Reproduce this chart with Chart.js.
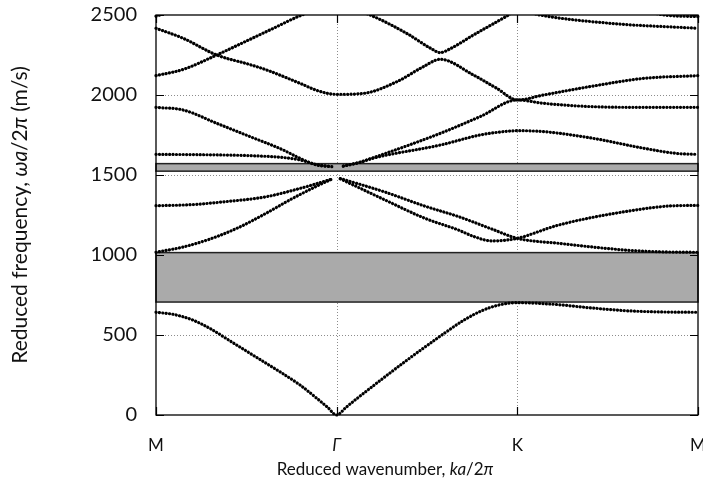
<!DOCTYPE html>
<html>
<head>
<meta charset="utf-8">
<script src="https://cdn.jsdelivr.net/npm/chart.js@4/dist/chart.umd.min.js"></script>
<style>
  html, body { margin: 0; padding: 0; background: #ffffff; }
  #wrap { width: 703px; height: 502px; }
</style>
</head>
<body>
<div id="wrap"><canvas id="c" width="703" height="502"></canvas></div>
<script>
// High-symmetry path M → Γ → K → M
const kTicks = [0, 1, 2, 3];
const kLabels = ['M', 'Γ', 'K', 'M'];
const freqTicks = [0, 500, 1000, 1500, 2000, 2500];

// Complete band gaps (m/s)
const gapLow = [706, 1015];
const gapHigh = [1524, 1571];

// Dispersion branches: [k position, reduced frequency]
const band1 = [[0,642],[0.1,628],[0.2,595],[0.3,540],[0.4,470],[0.5,400],[0.6,330],[0.7,260],[0.8,185],[0.9,95],[0.95,48],[1,0],
  [1.05,46],[1.1,92],[1.2,180],[1.3,267],[1.4,352],[1.5,434],[1.6,514],[1.7,590],[1.8,650],[1.9,688],[2,702],
  [2.2,692],[2.4,670],[2.6,652],[2.8,644],[3,642]];
const band2 = [[0,1017],[0.15,1050],[0.3,1100],[0.45,1168],[0.6,1255],[0.75,1350],[0.9,1436],[0.975,1475],[1,null],
  [1.02,1476],[1.26,1348],[1.489,1229],[1.674,1156],[1.76,1115],[1.86,1088],[1.93,1092],[2,1104],
  [2.228,1187],[2.597,1271],[2.874,1308],[3,1310]];
const band3 = [[0,1308],[0.2,1315],[0.4,1335],[0.6,1362],[0.8,1417],[0.975,1475],[1,null],
  [1.02,1478],[1.26,1396],[1.489,1305],[1.674,1240],[1.859,1162],[2,1104],
  [2.228,1073],[2.597,1031],[2.8,1020],[3,1017]];
const band4 = [[0,1629],[0.244,1627],[0.52,1621],[0.705,1609],[0.797,1594],[0.89,1565],[0.973,1552],[1,null],
  [1.037,1556],[1.13,1579],[1.185,1600],[1.573,1687],[1.794,1750],[1.9,1768],[2,1777],
  [2.145,1771],[2.42,1729],[2.7,1667],[2.88,1635],[3,1629]];
const band5 = [[0,1923],[0.151,1906],[0.336,1823],[0.52,1740],[0.705,1656],[0.797,1604],[0.89,1562],[0.973,1552],[1,null],
  [1.037,1556],[1.13,1580],[1.185,1601],[1.573,1760],[1.794,1865],[2,1969],
  [2.145,1948],[2.42,1927],[2.7,1923],[3,1923]];
const band6 = [[0,2417],[0.151,2354],[0.336,2250],[0.52,2190],[0.613,2156],[0.797,2073],[0.9,2025],[1,2004],
  [1.148,2010],[1.333,2083],[1.48,2177],[1.573,2223],[1.757,2125],[1.886,2042],[2,1969],
  [2.145,2000],[2.42,2056],[2.7,2104],[3,2121]];
const band7 = [[0,2121],[0.151,2160],[0.336,2250],[0.5,2337],[0.65,2417],[0.807,2500],[1,2570],
  [1.185,2500],[1.388,2385],[1.52,2292],[1.573,2265],[1.63,2290],[1.757,2375],[1.951,2500],[2,2535],
  [2.125,2500],[2.514,2448],[3,2417]];
const band8 = [[0,2492],[0.1,2530],[0.2,2580],[1.5,null],[2.65,2560],[2.8,2502],[3,2490]];

const bands = [band1, band2, band3, band4, band5, band6, band7, band8];

const FONT = 'Lato, "Open Sans", sans-serif';

function drawRuns(ctx, runs, cx, cy, size) {
  const fonts = runs.map(r => (r[1] ? 'italic ' : '') + size + 'px ' + FONT);
  let total = 0;
  const widths = runs.map((r, i) => { ctx.font = fonts[i]; const w = ctx.measureText(r[0]).width; total += w; return w; });
  let x = cx - total / 2;
  ctx.textAlign = 'left';
  ctx.textBaseline = 'middle';
  runs.forEach((r, i) => { ctx.font = fonts[i]; ctx.fillText(r[0], x, cy); x += widths[i]; });
}

const axesPlugin = {
  id: 'bandAxes',
  beforeDatasetsDraw(chart) {
    const { ctx, chartArea: a, scales: { x, y } } = chart;
    ctx.save();
    // dotted reference lines
    ctx.strokeStyle = '#8c8c8c';
    ctx.lineWidth = 1;
    ctx.setLineDash([1, 2]);
    freqTicks.forEach(v => {
      if (v <= y.min || v >= y.max) return;
      const py = Math.round(y.getPixelForValue(v)) + 0.5;
      ctx.beginPath(); ctx.moveTo(a.left, py); ctx.lineTo(a.right, py); ctx.stroke();
    });
    kTicks.forEach(v => {
      if (v <= x.min || v >= x.max) return;
      const px = Math.round(x.getPixelForValue(v)) + 0.5;
      ctx.beginPath(); ctx.moveTo(px, a.top); ctx.lineTo(px, a.bottom); ctx.stroke();
    });
    // shaded band gaps
    ctx.setLineDash([]);
    [gapLow, gapHigh].forEach(([lo, hi]) => {
      const t = y.getPixelForValue(hi), b = y.getPixelForValue(lo);
      ctx.fillStyle = '#aaaaaa';
      ctx.fillRect(a.left, t, a.right - a.left, b - t);
      ctx.strokeStyle = '#222222';
      ctx.lineWidth = 1.5;
      ctx.strokeRect(a.left, t, a.right - a.left, b - t);
    });
    ctx.restore();
  },
  afterDatasetsDraw(chart) {
    const { ctx, chartArea: a, scales: { x, y } } = chart;
    ctx.save();
    // frame
    ctx.strokeStyle = '#000000';
    ctx.lineWidth = 1.3;
    ctx.strokeRect(a.left, a.top, a.right - a.left, a.bottom - a.top);
    // inward tick marks
    ctx.lineWidth = 1.2;
    const tl = 8;
    freqTicks.forEach(v => {
      const py = Math.round(y.getPixelForValue(v)) + 0.5;
      ctx.beginPath();
      ctx.moveTo(a.left, py); ctx.lineTo(a.left + tl, py);
      ctx.moveTo(a.right, py); ctx.lineTo(a.right - tl, py);
      ctx.stroke();
    });
    kTicks.forEach(v => {
      const px = Math.round(x.getPixelForValue(v)) + 0.5;
      ctx.beginPath();
      ctx.moveTo(px, a.bottom); ctx.lineTo(px, a.bottom - tl);
      ctx.moveTo(px, a.top); ctx.lineTo(px, a.top + tl);
      ctx.stroke();
    });
    // symmetry-point labels
    ctx.fillStyle = '#111111';
    kTicks.forEach((v, i) => {
      const px = x.getPixelForValue(v);
      drawRuns(ctx, [[kLabels[i], kLabels[i] === 'Γ']], px, 446, 17);
    });
    // axis titles
    drawRuns(ctx, [['Reduced wavenumber, ', false], ['ka', true], ['/2', false], ['π', true]], 385, 470, 17);
    ctx.translate(20, 215);
    ctx.rotate(-Math.PI / 2);
    drawRuns(ctx, [['Reduced frequency, ', false], ['ωa', true], ['/2', false], ['π', true], [' (m/s)', false]], 0, 0, 21);
    ctx.restore();
  }
};

new Chart(document.getElementById('c'), {
  type: 'scatter',
  data: {
    datasets: bands.map((b, i) => ({
      label: 'band ' + (i + 1),
      data: b.map(([k, f]) => ({ x: k, y: f })),
      showLine: true,
      spanGaps: false,
      cubicInterpolationMode: 'monotone',
      borderColor: '#000000',
      borderWidth: 3.2,
      borderCapStyle: 'round',
      borderDash: [0.1, 3.3],
      pointRadius: 0,
      pointHoverRadius: 0,
      clip: { left: 2, right: 2, top: 0, bottom: 3 }
    }))
  },
  options: {
    responsive: false,
    animation: false,
    devicePixelRatio: 1,
    events: [],
    layout: { padding: { top: 15, right: 5, left: 0, bottom: 0 } },
    plugins: { legend: { display: false }, tooltip: { enabled: false } },
    scales: {
      x: {
        type: 'linear', min: 0, max: 3,
        grid: { display: false }, border: { display: false },
        ticks: { display: false },
        afterFit(s) { s.height = 87; s.paddingLeft = 0; s.paddingRight = 0; }
      },
      y: {
        type: 'linear', min: 0, max: 2500,
        grid: { display: false }, border: { display: false },
        afterBuildTicks(s) { s.ticks = freqTicks.map(v => ({ value: v })); },
        ticks: { color: '#111111', padding: 11, font: { family: FONT, size: 20 }, callback: v => String(v) },
        afterFit(s) { s.width = 156; s.paddingTop = 0; s.paddingBottom = 0; }
      }
    }
  },
  plugins: [axesPlugin]
});
</script>
</body>
</html>
